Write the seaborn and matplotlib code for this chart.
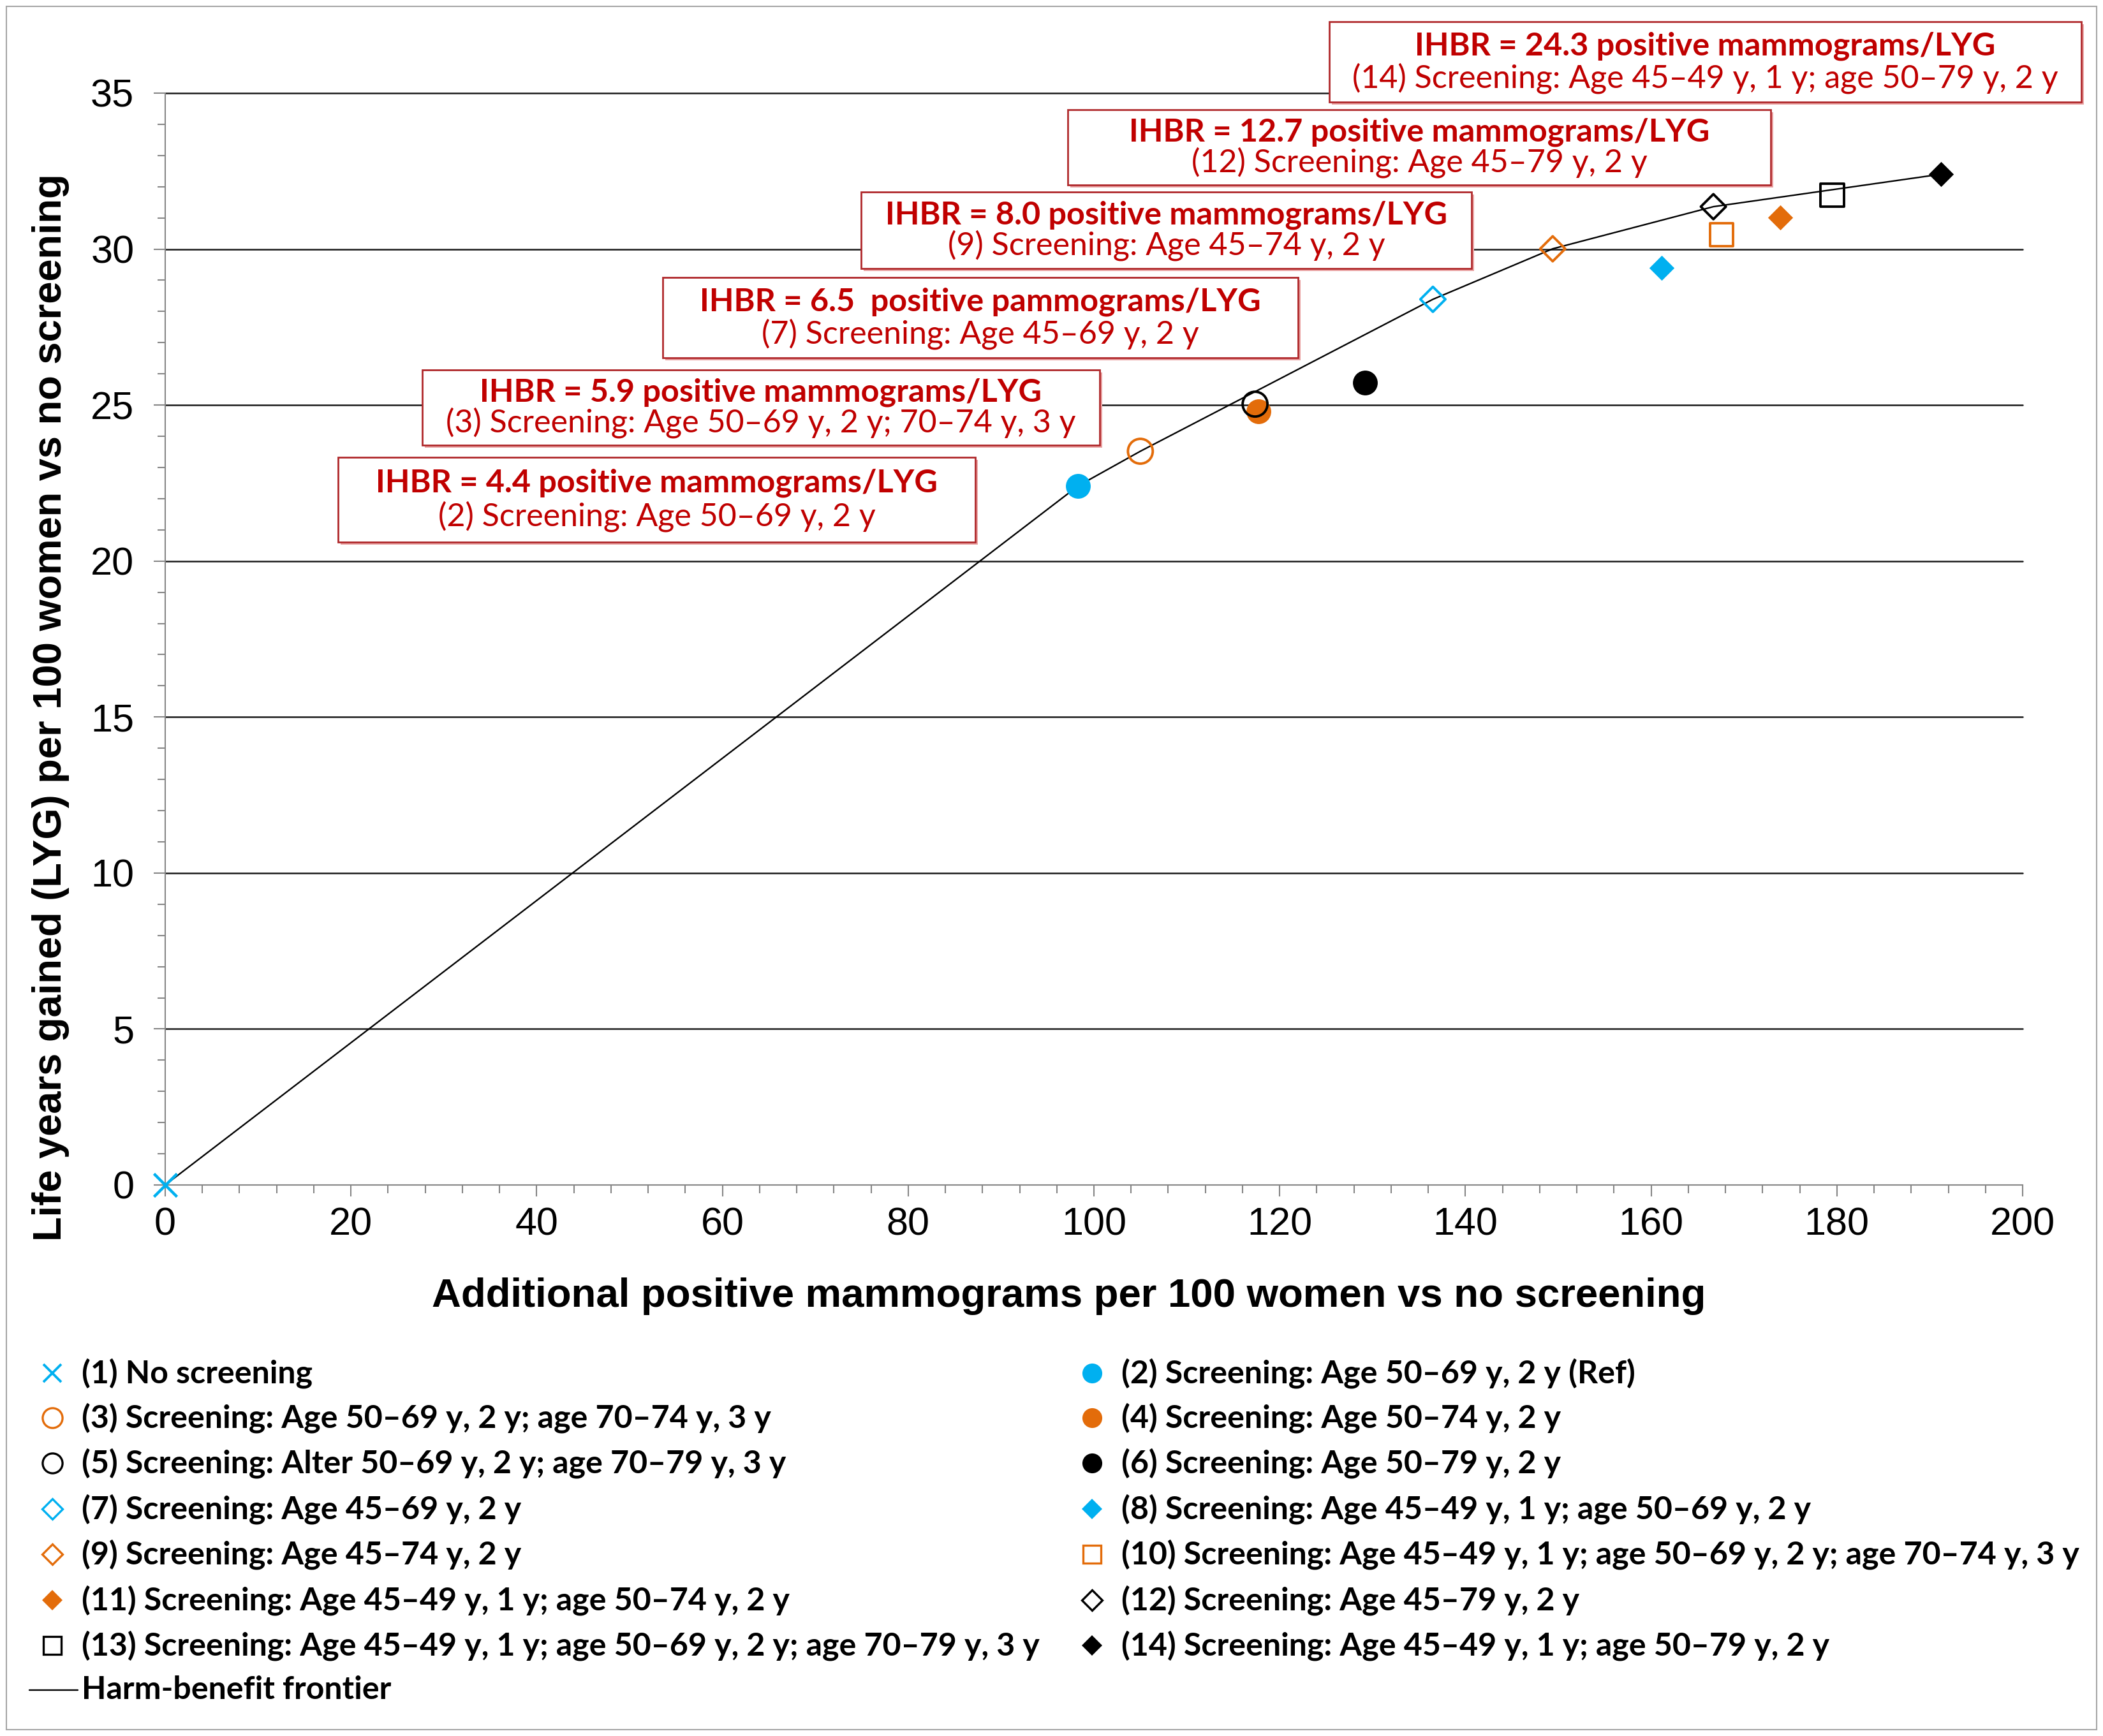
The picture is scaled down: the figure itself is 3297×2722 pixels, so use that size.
import matplotlib
matplotlib.use("Agg")
import matplotlib.pyplot as plt
import seaborn as sns
import numpy as np
import pandas as pd
from matplotlib.patches import Rectangle
from matplotlib.lines import Line2D
from matplotlib.ticker import MultipleLocator

# ---------------- data ----------------
strategy_ids = [1, 2, 3, 4, 5, 6, 7, 8, 9, 10, 11, 12, 13, 14]
harms = [0.0, 98.3, 105.0, 117.7, 117.35, 129.2, 136.5, 161.1, 149.4, 167.6, 173.9, 166.7, 179.5, 191.2]
benefits = [0.0, 22.41, 23.52, 24.80, 25.03, 25.71, 28.39, 29.39, 30.01, 30.46, 31.02, 31.36, 31.73, 32.40]
legend_labels = [
    "(1) No screening",
    "(2) Screening: Age 50–69 y, 2 y (Ref)",
    "(3) Screening: Age 50–69 y, 2 y; age 70–74 y, 3 y",
    "(4) Screening: Age 50–74 y, 2 y",
    "(5) Screening: Alter 50–69 y, 2 y; age 70–79 y, 3 y",
    "(6) Screening: Age 50–79 y, 2 y",
    "(7) Screening: Age 45–69 y, 2 y",
    "(8) Screening: Age 45–49 y, 1 y; age 50–69 y, 2 y",
    "(9) Screening: Age 45–74 y, 2 y",
    "(10) Screening: Age 45–49 y, 1 y; age 50–69 y, 2 y; age 70–74 y, 3 y",
    "(11) Screening: Age 45–49 y, 1 y; age 50–74 y, 2 y",
    "(12) Screening: Age 45–79 y, 2 y",
    "(13) Screening: Age 45–49 y, 1 y; age 50–69 y, 2 y; age 70–79 y, 3 y",
    "(14) Screening: Age 45–49 y, 1 y; age 50–79 y, 2 y",
]
frontier_label = "Harm-benefit frontier"
frontier_ids = [1, 2, 3, 7, 9, 12, 14]

ihbr_ids = [2, 3, 7, 9, 12, 14]
ihbr_titles = [
    "IHBR = 4.4 positive mammograms/LYG",
    "IHBR = 5.9 positive mammograms/LYG",
    "IHBR = 6.5  positive pammograms/LYG",
    "IHBR = 8.0 positive mammograms/LYG",
    "IHBR = 12.7 positive mammograms/LYG",
    "IHBR = 24.3 positive mammograms/LYG",
]
ihbr_subtitles = [
    "(2) Screening: Age 50–69 y, 2 y",
    "(3) Screening: Age 50–69 y, 2 y; 70–74 y, 3 y",
    "(7) Screening: Age 45–69 y, 2 y",
    "(9) Screening: Age 45–74 y, 2 y",
    "(12) Screening: Age 45–79 y, 2 y",
    "(14) Screening: Age 45–49 y, 1 y; age 50–79 y, 2 y",
]
x_ticks = [0, 20, 40, 60, 80, 100, 120, 140, 160, 180, 200]
y_ticks = [0, 5, 10, 15, 20, 25, 30, 35]
x_label = "Additional positive mammograms per 100 women vs no screening"
y_label = "Life years gained (LYG) per 100 women vs no screening"

# ---------------- styles ----------------
BLUE = "#00B0F0"
ORANGE = "#E36C0A"
BLACK = "#000000"
RED = "#C00000"
styles = {
    1: ("x", BLUE, False), 2: ("o", BLUE, True), 3: ("o", ORANGE, False),
    4: ("o", ORANGE, True), 5: ("o", BLACK, False), 6: ("o", BLACK, True),
    7: ("D", BLUE, False), 8: ("D", BLUE, True), 9: ("D", ORANGE, False),
    10: ("s", ORANGE, False), 11: ("D", ORANGE, True), 12: ("D", BLACK, False),
    13: ("s", BLACK, False), 14: ("D", BLACK, True),
}
msize = {"o": 28, "D": 20, "s": 26, "x": 26}

W, H = 3297, 2722
DPI = 100
sns.set_theme(style="white")
plt.rcParams["font.family"] = ["Liberation Sans", "DejaVu Sans"]

fig = plt.figure(figsize=(W / DPI, H / DPI), dpi=DPI)
fig.patch.set_facecolor("white")

ax_l, ax_r, ax_t, ax_b = 259, 3171, 146, 1858
ax = fig.add_axes([ax_l / W, 1 - ax_b / H, (ax_r - ax_l) / W, (ax_b - ax_t) / H])

df = pd.DataFrame({"id": strategy_ids, "harm": harms, "benefit": benefits})
front = df.set_index("id").loc[frontier_ids].reset_index()

sns.lineplot(data=front, x="harm", y="benefit", sort=False, color="black",
             linewidth=1.7, ax=ax, zorder=2, estimator=None)

for sid in strategy_ids:
    m, c, filled = styles[sid]
    sub = df[df["id"] == sid]
    s = msize[m] ** 2
    if m == "x":
        ax.scatter(sub["harm"], sub["benefit"], marker="x", s=s, color=c,
                   linewidths=3.2, zorder=4, clip_on=False)
    elif filled:
        sns.scatterplot(data=sub, x="harm", y="benefit", marker=m, s=s,
                        color=c, edgecolor=c, linewidth=0, ax=ax, zorder=4,
                        legend=False)
    else:
        sns.scatterplot(data=sub, x="harm", y="benefit", marker=m, s=s,
                        facecolor="none", edgecolor=c, linewidth=2.8, ax=ax,
                        zorder=4, legend=False)

ax.set_xlim(0, 200)
ax.set_ylim(0, 35)
ax.set_xticks(x_ticks)
ax.set_yticks(y_ticks)
ax.xaxis.set_minor_locator(MultipleLocator(4))
ax.yaxis.set_minor_locator(MultipleLocator(1))
ax.set_xlabel("")
ax.set_ylabel("")
ax.tick_params(axis="both", which="major", direction="out", length=13,
               width=1.5, color="#868686", labelsize=44, labelcolor="black",
               bottom=True, left=True)
ax.tick_params(axis="x", which="major", pad=12)
ax.tick_params(axis="y", which="major", pad=22)
ax.tick_params(axis="both", which="minor", direction="out", length=9,
               width=1.5, color="#868686", bottom=True, left=True)
for sp in ["top", "right"]:
    ax.spines[sp].set_visible(False)
for sp in ["left", "bottom"]:
    ax.spines[sp].set_color("#868686")
    ax.spines[sp].set_linewidth(1.5)
    ax.spines[sp].set_zorder(1)
ax.yaxis.grid(True, which="major", color="#1a1a1a", linewidth=1.8)
ax.xaxis.grid(False)
ax.set_axisbelow(True)
for gl in ax.get_ygridlines():
    gl.set_clip_on(False)
ax.get_ygridlines()[0].set_visible(False)

# ---------------- overlay for annotations / legend ----------------
ov = fig.add_axes([0, 0, 1, 1], zorder=5)
ov.set_xlim(0, W)
ov.set_ylim(H, 0)
ov.axis("off")
ov.patch.set_alpha(0)

ov.add_patch(Rectangle((10, 10), W - 20, H - 20, fill=False,
                       edgecolor="#A6A6A6", linewidth=1.5))

fig.canvas.draw()
renderer = fig.canvas.get_renderer()


def fit_width(t, target):
    w = t.get_window_extent(renderer).width
    t.set_fontsize(t.get_fontsize() * target / w)


def fit_height(t, target):
    h = t.get_window_extent(renderer).height
    t.set_fontsize(t.get_fontsize() * target / h)


xl = ov.text(1676, 2033, x_label, ha="center", va="center", fontsize=40,
             fontweight="bold", color="black")
fit_width(xl, 1993)
yl = ov.text(80, 1109, y_label, ha="center", va="center", fontsize=40,
             fontweight="bold", rotation=90, color="black")
fit_height(yl, 1672)

# annotation boxes (x0, x1, y0, y1) in pixels
boxes = {
    2: (530, 1529, 717, 850),
    3: (662, 1724, 580, 698),
    7: (1039, 2035, 435, 561),
    9: (1350, 2307, 301, 421),
    12: (1674, 2776, 172, 290),
    14: (2084, 3263, 34, 160),
}
ANN_FONT = ["Lato", "DejaVu Sans"]
probe_b = ov.text(0, 0, ihbr_titles[-1], fontsize=30, fontweight="bold",
                  family=ANN_FONT)
fit_width(probe_b, 910)
title_size = probe_b.get_fontsize()
probe_b.remove()
probe_r = ov.text(0, 0, ihbr_subtitles[-1], fontsize=30, family=ANN_FONT)
fit_width(probe_r, 1106)
sub_size = probe_r.get_fontsize()
probe_r.remove()

for sid, t1, t2 in zip(ihbr_ids, ihbr_titles, ihbr_subtitles):
    x0, x1, y0, y1 = boxes[sid]
    ov.add_patch(Rectangle((x0 + 4, y0 + 4), x1 - x0, y1 - y0,
                           facecolor="#E9A3A3", edgecolor="none", zorder=1))
    ov.add_patch(Rectangle((x0, y0), x1 - x0, y1 - y0, facecolor="white",
                           edgecolor="#B0292C", linewidth=2.0, zorder=2))
    cx = (x0 + x1) / 2
    hgt = y1 - y0
    ov.text(cx, y0 + 0.30 * hgt, t1, ha="center", va="center",
            fontsize=title_size, fontweight="bold", color=RED,
            family=ANN_FONT, zorder=3)
    ov.text(cx, y0 + 0.70 * hgt, t2, ha="center", va="center",
            fontsize=sub_size, color=RED, family=ANN_FONT, zorder=3)

# legend (manual, two columns)
probe = ov.text(0, 0, legend_labels[12], fontsize=30, fontweight="bold",
                family=ANN_FONT)
fit_width(probe, 1502)
leg_size = probe.get_fontsize()
probe.remove()

rows_y = [2153, 2223, 2294, 2366, 2437, 2509, 2580, 2650]
left_ids = [1, 3, 5, 7, 9, 11, 13]
right_ids = [2, 4, 6, 8, 10, 12, 14]
leg_scale = 0.8


def leg_marker(x, y, sid):
    m, c, filled = styles[sid]
    ms = msize[m] * leg_scale
    if m == "x":
        ov.plot([x], [y], marker="x", ms=ms, color=c, mew=2.8, ls="none")
    elif filled:
        ov.plot([x], [y], marker=m, ms=ms, color=c, mec=c, mew=0, ls="none")
    else:
        ov.plot([x], [y], marker=m, ms=ms, mfc="white", mec=c, mew=2.4,
                ls="none")


for i, sid in enumerate(left_ids):
    leg_marker(82, rows_y[i], sid)
    ov.text(128, rows_y[i], legend_labels[sid - 1], ha="left", va="center",
            fontsize=leg_size, fontweight="bold", family=ANN_FONT,
            color="black")
for i, sid in enumerate(right_ids):
    leg_marker(1712, rows_y[i], sid)
    ov.text(1758, rows_y[i], legend_labels[sid - 1], ha="left", va="center",
            fontsize=leg_size, fontweight="bold", family=ANN_FONT,
            color="black")
ov.add_line(Line2D([46, 122], [rows_y[7], rows_y[7]], color="black",
                   linewidth=1.7))
ov.text(128, rows_y[7], frontier_label, ha="left", va="center",
        fontsize=leg_size, fontweight="bold", family=ANN_FONT, color="black")

fig.savefig("out.png", dpi=DPI, facecolor="white")
